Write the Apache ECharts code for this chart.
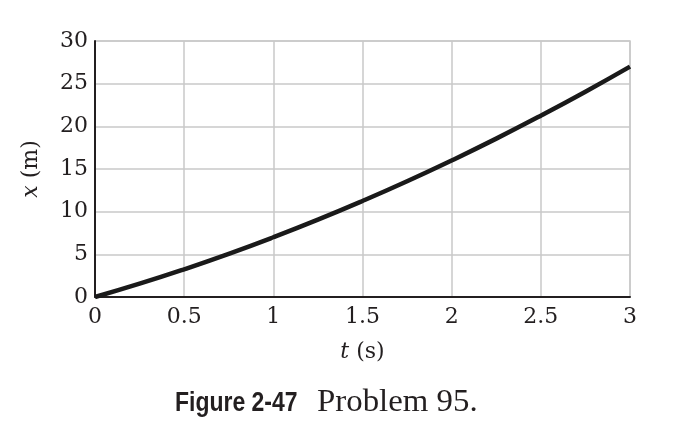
<!DOCTYPE html>
<html>
<head>
<meta charset="utf-8">
<script src="https://cdn.jsdelivr.net/npm/echarts@6/dist/echarts.min.js"></script>
<style>
  html, body { margin: 0; padding: 0; background: #fff; }
  #chart { width: 678px; height: 434px; }
</style>
</head>
<body>
<div id="chart"></div>
<script>
// time (s) and position (m)
var times = [0, 0.25, 0.5, 0.75, 1, 1.25, 1.5, 1.75, 2, 2.25, 2.5, 2.75, 3]
var positions = [0, 1.56, 3.25, 5.06, 7, 9.06, 11.25, 13.56, 16, 18.56, 21.25, 24.06, 27]

var serif = '"DejaVu Serif", "Liberation Serif", serif'
var ink = '#231f20'

var chart = echarts.init(document.getElementById('chart'))

var nameStyle = {
    fontFamily: serif,
    fontSize: 22,
    color: ink,
    rich: {
        i: { fontFamily: serif, fontSize: 22, fontStyle: 'italic', color: ink }
    }
}

var option = {
    backgroundColor: '#fff',
    animation: false,
    grid: {
        left: 95,
        right: 48,
        top: 41,
        bottom: 137
    },
    xAxis: {
        type: 'value',
        min: 0,
        max: 3,
        interval: 0.5,
        name: '{i|t} (s)',
        nameLocation: 'middle',
        nameGap: 44,
        nameTextStyle: nameStyle,
        axisLine: { show: true, lineStyle: { color: ink, width: 2 } },
        axisTick: { show: false },
        axisLabel: {
            fontFamily: serif,
            fontSize: 22,
            color: ink,
            margin: 9
        },
        splitLine: { show: true, lineStyle: { color: '#c8c8c8', width: 1.5 } }
    },
    yAxis: {
        type: 'value',
        min: 0,
        max: 30,
        interval: 5,
        name: '{i|x} (m)',
        nameLocation: 'middle',
        nameGap: 53,
        nameTextStyle: nameStyle,
        axisLine: { show: true, lineStyle: { color: ink, width: 2 } },
        axisTick: { show: false },
        axisLabel: {
            fontFamily: serif,
            fontSize: 22,
            color: ink,
            margin: 7
        },
        splitLine: { show: true, lineStyle: { color: '#c8c8c8', width: 1.5 } }
    },
    graphic: [{
        // right and top frame of the plot box
        type: 'polyline',
        shape: { points: [[95, 41], [630, 41], [630, 297]] },
        style: { stroke: '#c8c8c8', lineWidth: 1.5, fill: null }
    }, {
        // caption, bold condensed part
        type: 'text',
        x: 175,
        y: 403,
        scaleX: 0.82,
        style: {
            text: 'Figure 2-47',
            font: 'bold 28px "Liberation Sans", "DejaVu Sans", sans-serif',
            fill: ink,
            verticalAlign: 'middle'
        }
    }, {
        type: 'text',
        x: 317,
        y: 403,
        scaleX: 1.06,
        style: {
            text: 'Problem 95.',
            font: '31px "Liberation Serif", serif',
            fill: ink,
            verticalAlign: 'middle'
        }
    }],
    series: [{
        type: 'line',
        data: times.map(function (t, i) { return [t, positions[i]] }),
        smooth: true,
        showSymbol: false,
        lineStyle: { color: '#1a1a1a', width: 4.5 }
    }]
}

chart.setOption(option)
</script>
</body>
</html>
